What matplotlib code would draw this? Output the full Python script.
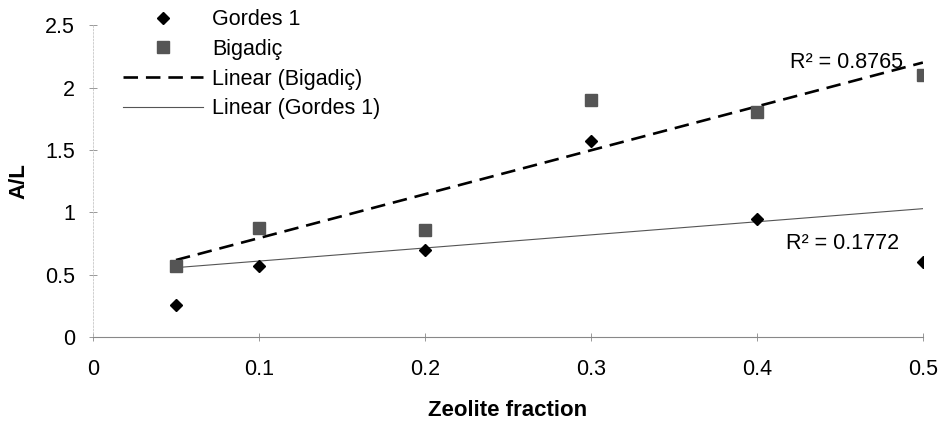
import numpy as np
import matplotlib.pyplot as plt

plt.rcParams['font.family'] = ['Liberation Sans', 'DejaVu Sans']

x = np.array([0.05, 0.1, 0.2, 0.3, 0.4, 0.5])
gordes = np.array([0.26, 0.57, 0.70, 1.57, 0.95, 0.60])
bigadic = np.array([0.57, 0.87, 0.86, 1.90, 1.80, 2.10])
r2_bigadic = "R² = 0.8765"
r2_gordes = "R² = 0.1772"

fs = 15.5
fig = plt.figure(figsize=(9.42, 4.22), dpi=100)
ax = fig.add_axes([0.0987, 0.2014, 0.881, 0.739])

# linear trendlines over the data range
xf = np.array([x.min(), x.max()])
pb = np.polyfit(x, bigadic, 1)
pg = np.polyfit(x, gordes, 1)

ax.plot(x, gordes, 'D', color='black', markersize=6.5, label='Gordes 1', zorder=4)
ax.plot(x, bigadic, 's', color='#555555', markersize=8, label='Bigadiç', zorder=3)
ax.plot(xf, np.polyval(pb, xf), '--', color='black', lw=1.9, dashes=(5.5, 3),
        label='Linear (Bigadiç)')
ax.plot(xf, np.polyval(pg, xf), '-', color='#555555', lw=0.8, label='Linear (Gordes 1)')

ax.text(0.488, 2.20, r2_bigadic, ha='right', va='center', fontsize=fs)
ax.text(0.4855, 0.75, r2_gordes, ha='right', va='center', fontsize=fs)

ax.set_xlim(0, 0.5)
ax.set_ylim(0, 2.5)
ax.set_xticks([0, 0.1, 0.2, 0.3, 0.4, 0.5])
ax.set_xticklabels(['0', '0.1', '0.2', '0.3', '0.4', '0.5'])
ax.set_yticks([0, 0.5, 1, 1.5, 2, 2.5])
ax.set_yticklabels(['0', '0.5', '1', '1.5', '2', '2.5'])
ax.tick_params(direction='inout', length=6, width=0.6, colors='#888888',
               labelcolor='black', labelsize=fs)
ax.tick_params(axis='y', pad=10)
ax.tick_params(axis='x', pad=13)

for s in ['top', 'right']:
    ax.spines[s].set_visible(False)
ax.spines['left'].set_color('#c8c8c8')
ax.spines['left'].set_linewidth(0.6)
ax.spines['left'].set_linestyle((0, (2, 2)))
ax.spines['bottom'].set_color('#888888')
ax.spines['bottom'].set_linewidth(0.8)

ax.set_xlabel('Zeolite fraction', fontsize=16, fontweight='bold', labelpad=14)
ax.set_ylabel('A/L', fontsize=16, fontweight='bold', labelpad=11)

ax.legend(loc='upper left', bbox_to_anchor=(0.1306, 0.978),
          bbox_transform=fig.transFigure, frameon=False,
          fontsize=fs, handlelength=3.7, labelspacing=0.4, handletextpad=0.45,
          borderaxespad=0, borderpad=0)

fig.savefig('out.png', dpi=100)
